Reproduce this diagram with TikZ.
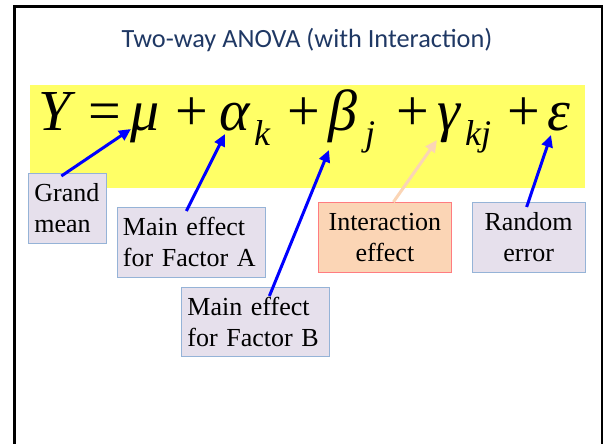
\documentclass[tikz,border=0pt]{standalone}
\usepackage{fontspec}
\setmainfont{Liberation Serif}
\newfontfamily\titlefont{Carlito}
\usepackage{xcolor}
\usetikzlibrary{arrows.meta,positioning,calc}

\definecolor{titleblue}{HTML}{1F3864}
\definecolor{bandyellow}{HTML}{FFFF66}
\definecolor{boxfill}{HTML}{E6E0EC}
\definecolor{boxline}{HTML}{95B3D7}
\definecolor{interfill}{HTML}{FBD5B5}
\definecolor{interline}{HTML}{FF7C80}

\begin{document}
\begin{tikzpicture}[x=1pt, y=-1pt, font=\fontsize{26}{31}\selectfont,
  box/.style={draw=boxline, fill=boxfill, line width=0.8pt, anchor=north west, inner xsep=6pt, inner ysep=0pt, minimum height=70pt},
  interbox/.style={box, draw=interline, fill=interfill},
  eqpart/.style={anchor=base west, inner sep=0pt, font=\fontsize{58}{60}\selectfont},
  eqsub/.style={anchor=base west, inner sep=0pt, font=\itshape\fontsize{36}{40}\selectfont},
  arr/.style={-{Triangle[length=12pt,width=11pt]}, line width=3pt, blue},
  peach/.style={arr, draw=interfill, -{Triangle[length=12pt,width=11pt,fill=interfill]}}]
\useasboundingbox (0,0) rectangle (603,444);
% slide frame
\draw[line width=2.5pt] (14.5,444) -- (14.5,6.5) -- (602,6.5) -- (602,444);
\node[anchor=base, text=titleblue, font=\titlefont\fontsize{26.3}{30}\selectfont] (title) at (307,48) {Two-way ANOVA (with Interaction)};
% model equation
\fill[bandyellow] (30,85) rectangle (585,188);
\node[eqpart] (Y) at (38,131) {\itshape Y};
\node[eqpart] (eq) at (88,131) {=};
\node[eqpart] (mu) at (130,131) {\itshape μ};
\node[eqpart] (p1) at (175,131) {+};
\node[eqpart] (alpha) at (219,131) {\itshape α};
\node[eqsub] (k1) at (254,145) {k};
\node[eqpart] (p2) at (287,131) {+};
\node[eqpart] (beta) at (328,131) {\itshape β};
\node[eqsub] (j1) at (365,146) {j};
\node[eqpart] (p3) at (396,131) {+};
\node[eqpart] (gamma) at (437,131) {\itshape γ};
\node[eqsub] (kj) at (465,146) {kj};
\node[eqpart] (p4) at (507,131) {+};
\node[eqpart] (eps) at (547,131) {\itshape ε};
\coordinate (mutip) at (131,129);
\coordinate (alphatip) at (225,134);
\coordinate (betatip) at (329,150);
\coordinate (gammatip) at (437,140);
\coordinate (epstip) at (551,135);
% labels
\node[box, text width=66pt, align=left] (grand) at (28,173) {Grand\\mean};
\node[box, text width=136pt, align=left] (facA) at (116.5,207) {Main effect\\for Factor A};
\node[box, text width=136pt, align=left, minimum height=69pt] (facB) at (181,287) {Main effect\\for Factor B};
\node[interbox, text width=121pt, align=center] (inter) at (318,202) {Interaction\\effect};
\node[box, text width=101.5pt, align=center] (rnd) at (471.5,202) {Random\\error};
% pointers
\draw[arr] ([shift={(-6pt,-3pt)}]grand.north) -- (mutip);
\draw[arr] ([shift={(-4.5pt,-4pt)}]facA.north) -- (alphatip);
\draw[arr] ([shift={(14pt,-9pt)}]facB.north) -- (betatip);
\draw[peach] ([shift={(8.5pt,0pt)}]inter.north) -- (gammatip);
\draw[arr] ([shift={(-2pt,-5pt)}]rnd.north) -- (epstip);
\end{tikzpicture}
\end{document}
